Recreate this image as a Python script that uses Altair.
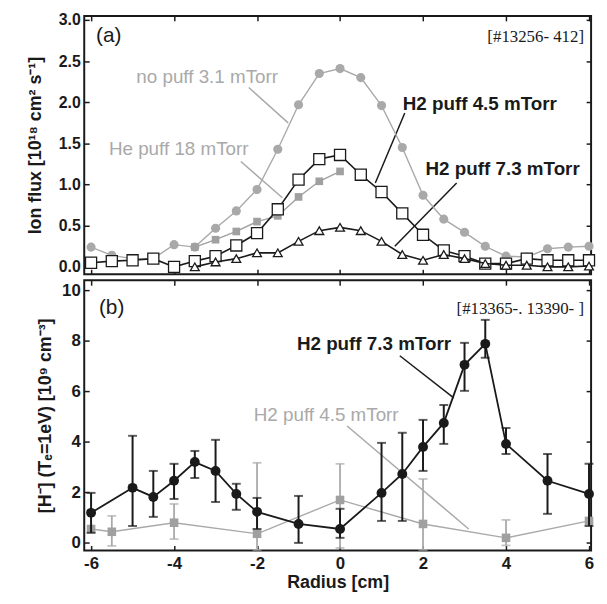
import altair as alt
import pandas as pd

# ---------------- data: panel (a) ion flux ----------------
r_top = [-6, -5.5, -5, -4.5, -4, -3.5, -3, -2.5, -2, -1.5, -1, -0.5, 0,
         0.5, 1, 1.5, 2, 2.5, 3, 3.5, 4, 4.5, 5, 5.5, 6]
no_puff = [0.24, 0.14, 0.10, 0.10, 0.27, 0.24, 0.47, 0.68, 0.94, 1.43, 1.97, 2.35, 2.41,
           2.30, 1.96, 1.45, 0.87, 0.58, 0.42, 0.25, 0.13, 0.12, 0.22, 0.24, 0.25]
h2_45 = [0.05, 0.07, 0.08, 0.10, 0.00, 0.07, 0.13, 0.26, 0.41, 0.70, 1.06, 1.31, 1.36,
         1.12, 0.91, 0.65, 0.39, 0.20, 0.13, 0.04, 0.04, 0.10, 0.08, 0.08, 0.08]
r_he = [-3.5, -3, -2.5, -2, -1.5, -1, -0.5, 0]
he_18 = [0.24, 0.33, 0.43, 0.55, 0.62, 0.85, 1.04, 1.16]
r_73 = [-3.5, -3, -2.5, -2, -1.5, -1, -0.5, 0, 0.5, 1, 1.5, 2, 2.5, 3, 3.5, 4, 4.5, 5, 5.5, 6]
h2_73 = [0.00, 0.06, 0.10, 0.17, 0.17, 0.31, 0.44, 0.48, 0.44, 0.31, 0.15, 0.08, 0.15,
         0.10, 0.04, 0.02, 0.02, 0.00, 0.00, 0.01]

# ---------------- data: panel (b) H- density ----------------
r_b73 = [-6, -5, -4.5, -4, -3.5, -3, -2.5, -2, -1, 0, 1, 1.5, 2, 2.5, 3, 3.5, 4, 5, 6]
b73 = [1.19, 2.18, 1.82, 2.46, 3.20, 2.85, 1.94, 1.23, 0.75, 0.55, 1.98, 2.73, 3.80, 4.75,
       7.05, 7.88, 3.92, 2.46, 1.94]
b73_hi = [1.98, 4.24, 2.85, 3.13, 3.64, 4.08, 2.34, 1.78, 1.86, 1.35, 3.96, 4.36, 4.87, 5.46,
          7.92, 8.83, 4.55, 3.52, 3.13]
b73_lo = [0.40, 0.67, 1.03, 1.74, 2.57, 1.62, 1.31, 0.55, 0.00, 0.20, 0.87, 0.87, 2.85, 3.92,
          6.02, 7.33, 3.52, 1.15, 0.67]
r_b45 = [-6, -5.5, -4, -2, 0, 2, 4, 6]
b45 = [0.55, 0.44, 0.80, 0.36, 1.70, 0.75, 0.20, 0.87]
r_b45e = [-5.5, -4, -2, 0, 2, 4]
b45_hi = [1.07, 1.54, 3.17, 3.13, 2.53, 0.91]
b45_lo = [-0.12, 0.15, -0.28, -0.20, -0.28, -0.10]

# ---------------- ticks / labels ----------------
x_ticks = [-6, -4, -2, 0, 2, 4, 6]
ya_ticks = [0, 0.5, 1.0, 1.5, 2.0, 2.5, 3.0]
yb_ticks = [0, 2, 4, 6, 8, 10]

# annotations (data units)
ann_a_text = ["no puff 3.1 mTorr", "He puff 18 mTorr", "H2 puff 4.5 mTorr", "H2 puff 7.3 mTorr"]
ann_a_x = [-4.91, -5.57, 1.51, 2.06]
ann_a_y = [2.31, 1.43, 1.98, 1.19]
lead_a_x = [-2.2, -2.39, 1.56, 2.81]
lead_a_y = [2.18, 1.28, 1.87, 1.02]
lead_a_x2 = [-1.25, -1.39, 0.85, 1.32]
lead_a_y2 = [1.75, 0.84, 1.02, 0.25]

ann_b_text = ["H2 puff 7.3 mTorr", "H2 puff 4.5 mTorr"]
ann_b_x = [-1.04, -2.08]
ann_b_y = [7.88, 5.07]
lead_b_x = [1.44, 0.17]
lead_b_y = [7.41, 4.63]
lead_b_x2 = [2.74, 3.10]
lead_b_y2 = [5.74, 0.55]

GRAY = "#a9a9a9"
GRAY2 = "#a0a0a0"
BLACK = "#1a1a1a"
FONT = "Liberation Sans"
SERIF = "Liberation Serif"

XS = alt.Scale(domain=[-6.165, 6.05], nice=False, zero=False)
YA = alt.Scale(domain=[-0.09, 3.05], nice=False, zero=False)
YB = alt.Scale(domain=[-0.3, 10.4], nice=False, zero=False)

W = 512
HA = 261
HB = 273

tick_style = dict(offset=-5, tickSize=5, domain=False, tickColor=BLACK, tickWidth=1.5,
                  grid=False, labelColor=BLACK, titleColor=BLACK, labelFont=FONT,
                  titleFont=FONT, labelFontWeight="bold", titleFontWeight="bold")


def xy(scale_y, xaxis=None, yaxis=None, xf="x", yf="y"):
    return dict(
        x=alt.X(f"{xf}:Q", scale=XS, axis=xaxis),
        y=alt.Y(f"{yf}:Q", scale=scale_y, axis=yaxis),
    )


def series(xs, ys, scale_y, color, lw, shape, size, fill, stroke, sw):
    df = pd.DataFrame({"x": xs, "y": ys})
    base = alt.Chart(df)
    line = base.mark_line(color=color, strokeWidth=lw).encode(**xy(scale_y))
    pts = base.mark_point(shape=shape, size=size, filled=True, fill=fill, stroke=stroke,
                          strokeWidth=sw, opacity=1).encode(**xy(scale_y))
    return [line, pts]


def errbars(xs, lo, hi, scale_y, color, w):
    df = pd.DataFrame({"x": xs, "lo": lo, "hi": hi})
    base = alt.Chart(df)
    rule = base.mark_rule(color=color, strokeWidth=w).encode(
        x=alt.X("x:Q", scale=XS, axis=None),
        y=alt.Y("lo:Q", scale=scale_y, axis=None), y2="hi:Q")
    cap_hi = base.mark_tick(color=color, orient="horizontal", size=9, thickness=w).encode(
        x=alt.X("x:Q", scale=XS, axis=None), y=alt.Y("hi:Q", scale=scale_y, axis=None))
    cap_lo = base.mark_tick(color=color, orient="horizontal", size=9, thickness=w).encode(
        x=alt.X("x:Q", scale=XS, axis=None), y=alt.Y("lo:Q", scale=scale_y, axis=None))
    return [rule, cap_hi, cap_lo]


def leaders(x1, y1, x2, y2, scale_y, color):
    df = pd.DataFrame({"x": x1, "y": y1, "x2": x2, "y2": y2})
    return alt.Chart(df).mark_rule(color=color, strokeWidth=1.5).encode(
        x=alt.X("x:Q", scale=XS, axis=None), y=alt.Y("y:Q", scale=scale_y, axis=None),
        x2="x2:Q", y2="y2:Q")


def texts(xs, ys, labels, scale_y, color, weight, size, font=FONT, align="left"):
    df = pd.DataFrame({"x": xs, "y": ys, "t": labels})
    return alt.Chart(df).mark_text(align=align, baseline="middle", color=color,
                                   fontWeight=weight, fontSize=size, font=font).encode(
        x=alt.X("x:Q", scale=XS, axis=None), y=alt.Y("y:Q", scale=scale_y, axis=None),
        text="t:N")


# ---------------- panel (a) ----------------
frame_df_a = pd.DataFrame({"x": r_top, "y": no_puff})
axis_a1 = alt.Chart(frame_df_a).mark_point(opacity=0).encode(
    x=alt.X("x:Q", scale=XS, axis=alt.Axis(orient="bottom", values=x_ticks, labels=False,
                                             title=None, **tick_style)),
    y=alt.Y("y:Q", scale=YA, axis=alt.Axis(orient="left", values=ya_ticks, format=".1f",
                                             labelFontSize=16, labelPadding=4,
                                             title="Ion flux [10¹⁸ cm² s⁻¹]",
                                             titleFontSize=18, titlePadding=14,
                                             **tick_style)),
)
axis_a2 = alt.Chart(frame_df_a).mark_point(opacity=0).encode(
    x=alt.X("x:Q", scale=XS, axis=alt.Axis(orient="top", values=x_ticks, labels=False,
                                             title=None, **tick_style)),
    y=alt.Y("y:Q", scale=YA, axis=alt.Axis(orient="right", values=ya_ticks, labels=False,
                                             title=None, **tick_style)),
)

layers_a = [axis_a1, axis_a2,
            leaders(lead_a_x[:2], lead_a_y[:2], lead_a_x2[:2], lead_a_y2[:2], YA, GRAY),
            leaders(lead_a_x[2:], lead_a_y[2:], lead_a_x2[2:], lead_a_y2[2:], YA, BLACK)]
layers_a += series(r_top, no_puff, YA, GRAY, 1.4, "circle", 85, GRAY, GRAY, 0)
layers_a += series(r_he, he_18, YA, GRAY2, 1.4, "square", 60, GRAY2, GRAY2, 0)
layers_a += series(r_top, h2_45, YA, BLACK, 1.6, "square", 125, "white", BLACK, 1.3)
layers_a += series(r_73, h2_73, YA, BLACK, 1.6, "triangle-up", 80, "white", BLACK, 1.3)
layers_a += [
    texts(ann_a_x[:2], ann_a_y[:2], ann_a_text[:2], YA, GRAY, "normal", 19),
    texts(ann_a_x[2:], ann_a_y[2:], ann_a_text[2:], YA, BLACK, "bold", 19),
    texts([-5.88], [2.80], ["(a)"], YA, BLACK, "normal", 21),
    texts([5.88], [2.79], ["[#13256- 412]"], YA, BLACK, "normal", 17, SERIF, "right"),
]
panel_a = alt.layer(*layers_a).resolve_axis(x="independent", y="independent").properties(
    width=W, height=HA)

# ---------------- panel (b) ----------------
frame_df_b = pd.DataFrame({"x": r_b73, "y": b73})
axis_b1 = alt.Chart(frame_df_b).mark_point(opacity=0).encode(
    x=alt.X("x:Q", scale=XS, axis=alt.Axis(orient="bottom", values=x_ticks,
                                             labelExpr="'' + datum.value",
                                             labelFontSize=17, labelPadding=5,
                                             title="Radius [cm]", titleFontSize=18,
                                             titlePadding=2, **tick_style)),
    y=alt.Y("y:Q", scale=YB, axis=alt.Axis(orient="left", values=yb_ticks,
                                             labelExpr="'' + datum.value",
                                             labelFontSize=17, labelPadding=4,
                                             title="[H⁻]  (Tₑ=1eV) [10⁹ cm⁻³]",
                                             titleFontSize=18, titlePadding=7,
                                             **tick_style)),
)
axis_b2 = alt.Chart(frame_df_b).mark_point(opacity=0).encode(
    x=alt.X("x:Q", scale=XS, axis=alt.Axis(orient="top", values=x_ticks, labels=False,
                                             title=None, **tick_style)),
    y=alt.Y("y:Q", scale=YB, axis=alt.Axis(orient="right", values=yb_ticks, labels=False,
                                             title=None, **tick_style)),
)

layers_b = [axis_b1, axis_b2,
            leaders(lead_b_x[:1], lead_b_y[:1], lead_b_x2[:1], lead_b_y2[:1], YB, BLACK),
            leaders(lead_b_x[1:], lead_b_y[1:], lead_b_x2[1:], lead_b_y2[1:], YB, GRAY)]
layers_b += errbars(r_b45e, b45_lo, b45_hi, YB, GRAY, 1.8)
layers_b += series(r_b45, b45, YB, GRAY, 1.4, "square", 75, GRAY2, GRAY2, 0)
layers_b += errbars(r_b73, b73_lo, b73_hi, YB, BLACK, 2.0)
layers_b += series(r_b73, b73, YB, BLACK, 1.8, "circle", 100, BLACK, BLACK, 0)
layers_b += [
    texts(ann_b_x[:1], ann_b_y[:1], ann_b_text[:1], YB, BLACK, "bold", 19),
    texts(ann_b_x[1:], ann_b_y[1:], ann_b_text[1:], YB, GRAY, "normal", 19),
    texts([-5.81], [9.31], ["(b)"], YB, BLACK, "normal", 21),
    texts([5.88], [9.27], ["[#13365-. 13390- ]"], YB, BLACK, "normal", 17, SERIF, "right"),
]
panel_b = alt.layer(*layers_b).resolve_axis(x="independent", y="independent").properties(
    width=W, height=HB)

chart = alt.vconcat(panel_a, panel_b, spacing=2).properties(
    padding={"left": 17, "top": 0, "right": 0, "bottom": 0},
    background="white",
).configure_view(stroke=BLACK, strokeWidth=2)

chart.save("out.html", embed_options={"renderer": "svg", "actions": False})
